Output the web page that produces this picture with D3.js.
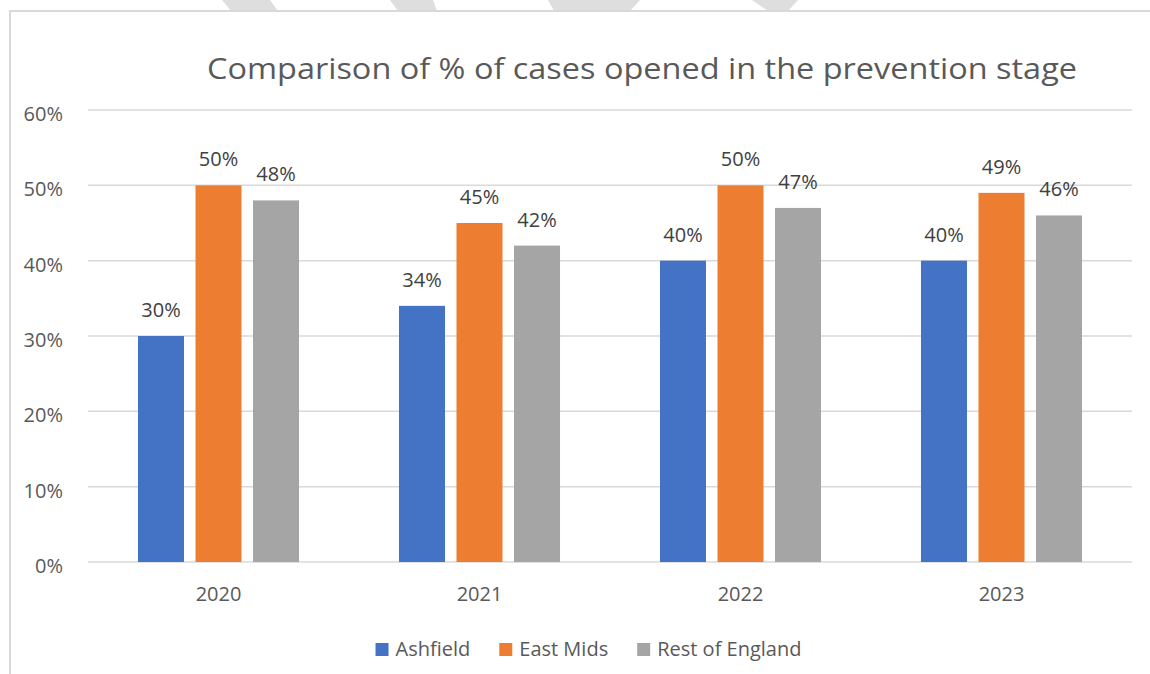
<!DOCTYPE html>
<html>
<head>
<meta charset="utf-8">
<script src="https://cdn.jsdelivr.net/npm/d3@7"></script>
<style>
  html, body { margin: 0; padding: 0; background: #fff; }
  svg { display: block; font-family: "Open Sans", "Noto Sans", sans-serif; }
</style>
</head>
<body>
<svg id="chart" width="1150" height="674"></svg>
<script>
const title = "Comparison of % of cases opened in the prevention stage";
const categories = ["2020", "2021", "2022", "2023"];
const seriesNames = ["Ashfield", "East Mids", "Rest of England"];
const ashfield = [30, 34, 40, 40];
const eastMids = [50, 45, 50, 49];
const restOfEngland = [48, 42, 47, 46];
const yTicks = [0, 10, 20, 30, 40, 50, 60];
const colors = ["#4472C4", "#ED7D31", "#A5A5A5"];

const seriesValues = [ashfield, eastMids, restOfEngland];
const rows = categories.map((c, i) => ({
  cat: c,
  vals: seriesNames.map((s, j) => ({ series: s, value: seriesValues[j][i] }))
}));

const svg = d3.select("#chart");
const W = 1150, H = 674;
const plot = { left: 88, right: 1132, top: 110, bottom: 562 };

// watermark strips at top
const marks = [
  [[222,0],[270,0],[278,11],[231,11]],
  [[390,0],[433,0],[437,11],[398,11]],
  [[548,0],[640,0],[630,11],[554,11]],
  [[752,0],[798,0],[788,11],[768,11]]
];
svg.selectAll("polygon.wm").data(marks).enter().append("polygon")
  .attr("class", "wm")
  .attr("points", d => d.map(p => p.join(",")).join(" "))
  .attr("fill", "#dedede");

// chart border
svg.append("rect")
  .attr("x", 10).attr("y", 11).attr("width", 1160).attr("height", 700)
  .attr("fill", "#fff").attr("stroke", "#d9d9d9").attr("stroke-width", 2);

const y = d3.scaleLinear().domain([0, 60]).range([plot.bottom, plot.top]);
const x0 = d3.scaleBand().domain(categories).range([plot.left, plot.right])
  .paddingInner(0.383).paddingOuter(0.1915);
const x1 = d3.scaleBand().domain(seriesNames).range([0, x0.bandwidth()])
  .paddingInner(0.2).paddingOuter(0);
const color = d3.scaleOrdinal().domain(seriesNames).range(colors);

// gridlines
svg.append("g").selectAll("line").data(yTicks).enter().append("line")
  .attr("x1", plot.left).attr("x2", plot.right)
  .attr("y1", d => y(d)).attr("y2", d => y(d))
  .attr("stroke", "#d9d9d9").attr("stroke-width", 1.5);

// y-axis labels
svg.append("g").selectAll("text").data(yTicks).enter().append("text")
  .attr("x", 63).attr("y", d => y(d) + 11)
  .attr("text-anchor", "end")
  .attr("font-size", 20).attr("fill", "#595959")
  .text(d => d + "%");

// bars
const groups = svg.append("g").selectAll("g").data(rows).enter().append("g")
  .attr("transform", d => `translate(${x0(d.cat)},0)`);
groups.selectAll("rect").data(d => d.vals).enter().append("rect")
  .attr("x", d => x1(d.series))
  .attr("y", d => y(d.value))
  .attr("width", x1.bandwidth())
  .attr("height", d => y(0) - y(d.value))
  .attr("fill", d => color(d.series));
groups.selectAll("text").data(d => d.vals).enter().append("text")
  .attr("x", d => x1(d.series) + x1.bandwidth() / 2)
  .attr("y", d => y(d.value) - 19)
  .attr("text-anchor", "middle")
  .attr("font-size", 20).attr("fill", "#404040")
  .text(d => d.value + "%");

// x-axis labels
svg.append("g").selectAll("text").data(categories).enter().append("text")
  .attr("x", d => x0(d) + x0.bandwidth() / 2)
  .attr("y", 601)
  .attr("text-anchor", "middle")
  .attr("font-size", 20).attr("fill", "#595959")
  .text(d => d);

// title
const t = svg.append("text")
  .attr("x", 642).attr("y", 79)
  .attr("text-anchor", "middle")
  .attr("font-size", 29).attr("fill", "#595959")
  .text(title);
const tl = t.node().getComputedTextLength();
if (Math.abs(tl - 870) > 4) t.attr("textLength", 870).attr("lengthAdjust", "spacingAndGlyphs");

// legend
const leg = svg.append("g");
const items = leg.selectAll("g").data(seriesNames).enter().append("g");
items.append("rect").attr("width", 13).attr("height", 13).attr("y", 643)
  .attr("fill", d => color(d));
items.append("text").attr("x", 20).attr("y", 656)
  .attr("font-size", 20).attr("fill", "#595959").text(d => d);
let cx = 0;
const widths = [];
items.each(function() {
  widths.push(this.querySelector("text").getComputedTextLength() + 20);
});
const gap = 29;
const total = widths.reduce((a, b) => a + b, 0) + gap * (widths.length - 1);
let start = 588.5 - total / 2;
items.attr("transform", (d, i) => {
  const tx = start;
  start += widths[i] + gap;
  return `translate(${tx},0)`;
});
</script>
</body>
</html>
